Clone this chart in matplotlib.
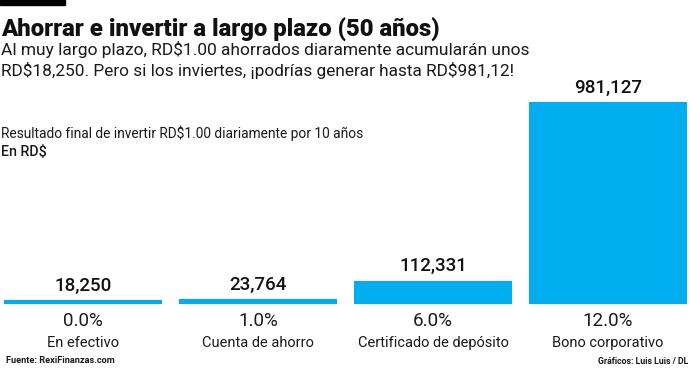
import matplotlib
matplotlib.use("Agg")
import matplotlib.pyplot as plt
import matplotlib.patches as patches

# data
categories = ["En efectivo", "Cuenta de ahorro", "Certificado de depósito", "Bono corporativo"]
rates = ["0.0%", "1.0%", "6.0%", "12.0%"]
values = [18250, 23764, 112331, 981127]

BLUE = "#00AEEF"
INK = "#1a1a1a"
W, H = 693, 370

plt.rcParams["font.family"] = ["Roboto", "DejaVu Sans"]
plt.rcParams["text.parse_math"] = False

fig = plt.figure(figsize=(W / 100, H / 100), dpi=100)


def fx(px):
    return px / W


def fy(py):
    return 1 - py / H


# little black tab at top left
fig.patches.append(patches.Rectangle((0, fy(5)), fx(65), 5 / H, transform=fig.transFigure,
                                     color="black", zorder=5))

fig.text(fx(1), fy(37), "Ahorrar e invertir a largo plazo (50 años)", fontsize=17.2,
         fontweight="heavy", color="#111111", va="baseline")
fig.text(fx(1), fy(55), "Al muy largo plazo, RD$1.00 ahorrados diaramente acumularán unos",
         fontsize=12.5, color=INK, va="baseline")
fig.text(fx(1), fy(76), "RD$18,250. Pero si los inviertes, ¡podrías generar hasta RD$981,12!",
         fontsize=12.4, color=INK, va="baseline")
fig.text(fx(1), fy(138), "Resultado final de invertir RD$1.00 diariamente por 10 años",
         fontsize=9.9, color=INK, va="baseline")
fig.text(fx(1), fy(156), "En RD$", fontsize=10.3, fontweight="medium", color=INK,
         va="baseline")

# bars
base, top = 304, 102
ax = fig.add_axes([fx(4), fy(base), fx(684), (base - top) / H])
x = list(range(len(values)))
ax.bar(x, values, width=158 / 175, color=BLUE, linewidth=0)
ax.set_xlim(-79 / 175, 3 + 80 / 175)
ax.set_ylim(0, max(values))
ax.axis("off")

for i, v in enumerate(values):
    ax.annotate(f"{v:,}", (i, v), xytext=(0, 4), textcoords="offset points",
                ha="center", va="bottom", fontsize=13.5, fontweight="medium", color="#111111")
    ax.annotate(rates[i], (i, 0), xytext=(0, -16), textcoords="offset points",
                ha="center", va="baseline", fontsize=13.5, color=INK,
                annotation_clip=False)
    ax.annotate(categories[i], (i, 0), xytext=(0, -31), textcoords="offset points",
                ha="center", va="baseline", fontsize=10.5, color=INK,
                annotation_clip=False)

foot = ["Liberation Sans Narrow", "Roboto", "DejaVu Sans"]
fig.text(fx(6), fy(363), "Fuente: RexiFinanzas.com", fontsize=6.6, fontweight="bold",
         family=foot, color=INK, va="baseline")
fig.text(fx(688), fy(364), "Gráficos: Luis Luis / DL", fontsize=6.3, fontweight="bold",
         family=foot, color=INK, va="baseline", ha="right")

fig.savefig("out.png", dpi=100, facecolor="white")
